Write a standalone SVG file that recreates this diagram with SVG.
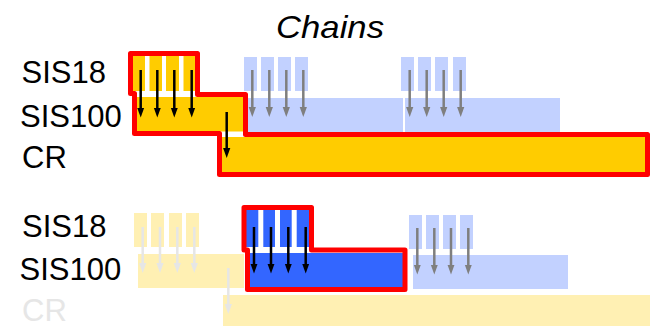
<svg xmlns="http://www.w3.org/2000/svg" width="650" height="326" viewBox="0 0 650 326">
<style>
.lbl{font-family:"Liberation Sans",Arial,sans-serif;font-size:31px;fill:#000}
.faded{fill:#e6e6e6}
.title{font-family:"Liberation Sans",Arial,sans-serif;font-size:32px;font-style:italic;fill:#000}
.y{fill:#ffcc00}
.ly{fill:#fff0b3}
.b{fill:#3366ff}
.lb{fill:#c2d1ff}
.outline{fill:none;stroke:#ff0000;stroke-width:5;stroke-linejoin:round}
.ak{stroke:#000;stroke-width:2.5;marker-end:url(#hk)}
.ag{stroke:#7f7f7f;stroke-width:2.5;marker-end:url(#hg)}
.af{stroke:#e6e6e6;stroke-width:2.5;marker-end:url(#hf)}
</style>
<defs>
<marker id="hk" markerUnits="userSpaceOnUse" markerWidth="11" markerHeight="8" viewBox="0 -4 11 8" refX="0.5" refY="0" orient="auto"><path d="M0,-3.6 L10,0 L0,3.6 z" fill="#000"/></marker>
<marker id="hg" markerUnits="userSpaceOnUse" markerWidth="11" markerHeight="8" viewBox="0 -4 11 8" refX="0.5" refY="0" orient="auto"><path d="M0,-3.6 L10,0 L0,3.6 z" fill="#7f7f7f"/></marker>
<marker id="hf" markerUnits="userSpaceOnUse" markerWidth="11" markerHeight="8" viewBox="0 -4 11 8" refX="0.5" refY="0" orient="auto"><path d="M0,-3.6 L10,0 L0,3.6 z" fill="#e6e6e6"/></marker>
</defs>
<rect width="650" height="326" fill="#fff"/>
<text id="title" class="title" x="276" y="37.5" textLength="108" lengthAdjust="spacingAndGlyphs">Chains</text>
<g id="labels-top">
<text class="lbl" x="21.5" y="83">SIS18</text>
<text class="lbl" x="20" y="127">SIS100</text>
<text class="lbl" x="22" y="167.5">CR</text>
</g>
<g id="labels-bottom">
<text class="lbl" x="22" y="237">SIS18</text>
<text class="lbl" x="19.5" y="280">SIS100</text>
<text class="lbl faded" x="22" y="320.5">CR</text>
</g>
<g id="chain1-faded">
<rect class="ly" x="134" y="213" width="13" height="34"/>
<rect class="ly" x="151" y="213" width="13" height="34"/>
<rect class="ly" x="169" y="213" width="13" height="34"/>
<rect class="ly" x="186" y="213" width="13" height="34"/>
<rect class="ly" x="138" y="254" width="106" height="34"/>
<rect class="ly" x="223" y="295" width="427" height="31"/>
</g>
<g id="chain2-top">
<rect class="lb" x="244" y="57" width="13" height="34"/>
<rect class="lb" x="261" y="57" width="13" height="34"/>
<rect class="lb" x="278" y="57" width="13" height="34"/>
<rect class="lb" x="295" y="57" width="13" height="34"/>
<rect class="lb" x="247" y="98" width="156" height="34"/>
</g>
<g id="chain3-top">
<rect class="lb" x="401" y="57" width="13" height="34"/>
<rect class="lb" x="418" y="57" width="13" height="34"/>
<rect class="lb" x="435" y="57" width="13" height="34"/>
<rect class="lb" x="453" y="57" width="13" height="34"/>
<rect class="lb" x="405" y="98" width="155" height="34"/>
</g>
<g id="chain3-bottom">
<rect class="lb" x="409" y="215" width="13" height="34"/>
<rect class="lb" x="426" y="215" width="13" height="34"/>
<rect class="lb" x="443" y="215" width="13" height="34"/>
<rect class="lb" x="460" y="215" width="13" height="34"/>
<rect class="lb" x="413" y="255" width="155" height="34"/>
</g>
<g id="chain1-active">
<rect class="y" x="131" y="56" width="14" height="35"/>
<rect class="y" x="149.5" y="56" width="12.5" height="35"/>
<rect class="y" x="166" y="56" width="13" height="35"/>
<rect class="y" x="183.5" y="56" width="13" height="35"/>
<rect class="y" x="135" y="97" width="110" height="34.5"/>
<rect class="y" x="220" y="137" width="427" height="37"/>
<polygon class="outline" points="130.5,53.5 197.5,53.5 197.5,94.5 245.5,94.5 245.5,134.5 647.5,134.5 647.5,174.5 219.5,174.5 219.5,133.5 134.5,133.5 134.5,93.5 130.5,93.5"/>
</g>
<g id="chain2-active">
<rect class="b" x="245" y="209" width="13.3" height="38"/>
<rect class="b" x="263.3" y="209" width="11.7" height="38"/>
<rect class="b" x="280" y="209" width="11.7" height="38"/>
<rect class="b" x="296.7" y="209" width="13" height="38"/>
<rect class="b" x="249" y="253" width="155" height="34"/>
<polygon class="outline" points="244,207.5 311.5,207.5 311.5,250 405,250 405,289.5 247.5,289.5 247.5,250 244,250"/>
</g>
<g id="connectors">
<line class="ak" x1="140.7" y1="70" x2="140.7" y2="108"/>
<line class="ak" x1="157.3" y1="70" x2="157.3" y2="108"/>
<line class="ak" x1="174.3" y1="70" x2="174.3" y2="108"/>
<line class="ak" x1="191.7" y1="70" x2="191.7" y2="108"/>
<line class="ak" x1="226.7" y1="112" x2="226.7" y2="148.5"/>
<line class="ag" x1="252.3" y1="70" x2="252.3" y2="107.5"/>
<line class="ag" x1="269.3" y1="70" x2="269.3" y2="107.5"/>
<line class="ag" x1="286.3" y1="70" x2="286.3" y2="107.5"/>
<line class="ag" x1="303.3" y1="70" x2="303.3" y2="107.5"/>
<line class="ag" x1="409.7" y1="70" x2="409.7" y2="107.5"/>
<line class="ag" x1="426.7" y1="70" x2="426.7" y2="107.5"/>
<line class="ag" x1="443.7" y1="70" x2="443.7" y2="107.5"/>
<line class="ag" x1="460.7" y1="70" x2="460.7" y2="107.5"/>
<line class="af" x1="142.7" y1="227" x2="142.7" y2="263.5"/>
<line class="af" x1="160" y1="227" x2="160" y2="263.5"/>
<line class="af" x1="177.3" y1="227" x2="177.3" y2="263.5"/>
<line class="af" x1="194.3" y1="227" x2="194.3" y2="263.5"/>
<line class="af" x1="228.3" y1="268" x2="228.3" y2="304.5"/>
<line class="ak" x1="254" y1="227" x2="254" y2="264"/>
<line class="ak" x1="271" y1="227" x2="271" y2="264"/>
<line class="ak" x1="288.3" y1="227" x2="288.3" y2="264"/>
<line class="ak" x1="305.7" y1="227" x2="305.7" y2="264"/>
<line class="ag" x1="417.3" y1="228" x2="417.3" y2="265"/>
<line class="ag" x1="434.3" y1="228" x2="434.3" y2="265"/>
<line class="ag" x1="451" y1="228" x2="451" y2="265"/>
<line class="ag" x1="468.3" y1="228" x2="468.3" y2="265"/>
</g>
</svg>
